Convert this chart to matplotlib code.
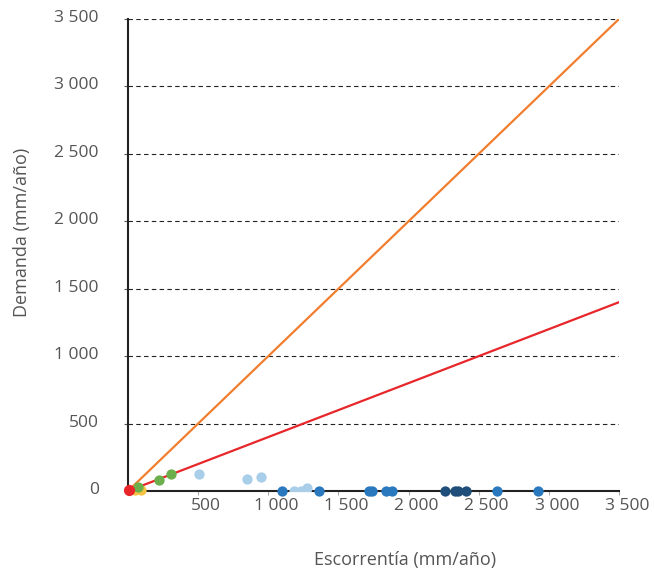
import matplotlib
matplotlib.use("Agg")
import matplotlib.pyplot as plt
import matplotlib.transforms as mtransforms
import numpy as np

plt.rcParams['font.family'] = ['Open Sans', 'DejaVu Sans']

# Data (mm/año)
red_x = [5]
red_y = [5]
yellow_x = [50, 95]
yellow_y = [10, 5]
green_x = [70, 222, 303]
green_y = [28, 78, 126]
lightblue_x = [509, 846, 946, 1185, 1230, 1277]
lightblue_y = [126, 87, 104, 0, 0, 20]
blue_x = [1095, 1363, 1718, 1737, 1839, 1880, 2630, 2920]
blue_y = [0, 0, 0, 0, 0, 0, 0, 0]
darkblue_x = [2260, 2330, 2350, 2410]
darkblue_y = [0, 0, 0, 0]

line_x = [0, 3500]
orange_slope = 1.0
red_slope = 0.4

ticks = [0, 500, 1000, 1500, 2000, 2500, 3000, 3500]
tick_labels = ["0", "500", "1 000", "1 500", "2 000", "2 500", "3 000", "3 500"]

fig = plt.figure(figsize=(6.54, 5.74), dpi=100)
ax = fig.add_axes([128/654, 1-491/574, (619-128)/654, (491-19)/574])

lx = np.array(line_x)
ax.plot(lx, orange_slope*lx, color='#F07E2E', lw=1.6, zorder=3)
ax.plot(lx, red_slope*lx, color='#E8262A', lw=1.6, zorder=3)

ms = 55
ax.scatter(lightblue_x, lightblue_y, s=ms, color='#A8CEEA', zorder=4, linewidths=0)
ax.scatter(blue_x, blue_y, s=ms, color='#2A79BE', zorder=4, linewidths=0, clip_on=False)
ax.scatter(darkblue_x, darkblue_y, s=ms, color='#1E4E79', zorder=4, linewidths=0, clip_on=False)
ax.scatter(yellow_x, yellow_y, s=ms, color='#F6C342', zorder=4, linewidths=0, clip_on=False)
ax.scatter(green_x, green_y, s=ms, color='#6AAF4B', zorder=5, linewidths=0, clip_on=False)
ax.scatter(red_x, red_y, s=ms+10, color='#E8262A', zorder=6, linewidths=0, clip_on=False)

ax.set_xlim(0, 3500)
ax.set_ylim(0, 3500)
for t in ticks[1:]:
    ax.axhline(t, color='#222222', lw=0.8, ls=(0, (4, 3)), zorder=1)

ax.set_xticks(ticks)
ax.set_xticklabels([""] + tick_labels[1:])
ax.set_yticks(ticks)
ax.set_yticklabels(tick_labels)

for s in ['top', 'right']:
    ax.spines[s].set_visible(False)
ax.spines['left'].set_color('#222222')
ax.spines['bottom'].set_color('#222222')
ax.spines['left'].set_linewidth(1.5)
ax.spines['bottom'].set_linewidth(1.5)
ax.spines['left'].set_zorder(2)
ax.spines['bottom'].set_zorder(2)

ax.tick_params(axis='x', length=3, color='#AAAAAA', labelsize=12.5, labelcolor='#555555', pad=2)
ax.tick_params(axis='y', length=3, color='#555555', labelsize=12.5, labelcolor='#555555', pad=18)

offset = mtransforms.ScaledTranslation(8/100, 0, fig.dpi_scale_trans)
for lab in ax.get_xticklabels():
    lab.set_transform(lab.get_transform() + offset)
offy = mtransforms.ScaledTranslation(0, 3/100, fig.dpi_scale_trans)
for lab in ax.get_yticklabels():
    lab.set_transform(lab.get_transform() + offy)

fig.text(405/654, 1-560/574, "Escorrentía (mm/año)", ha='center', va='center', fontsize=13, color='#555555')
fig.text(22/654, 1-232/574, "Demanda (mm/año)", ha='center', va='center', rotation=90, fontsize=13, color='#555555')

fig.savefig("out.png", dpi=100)
